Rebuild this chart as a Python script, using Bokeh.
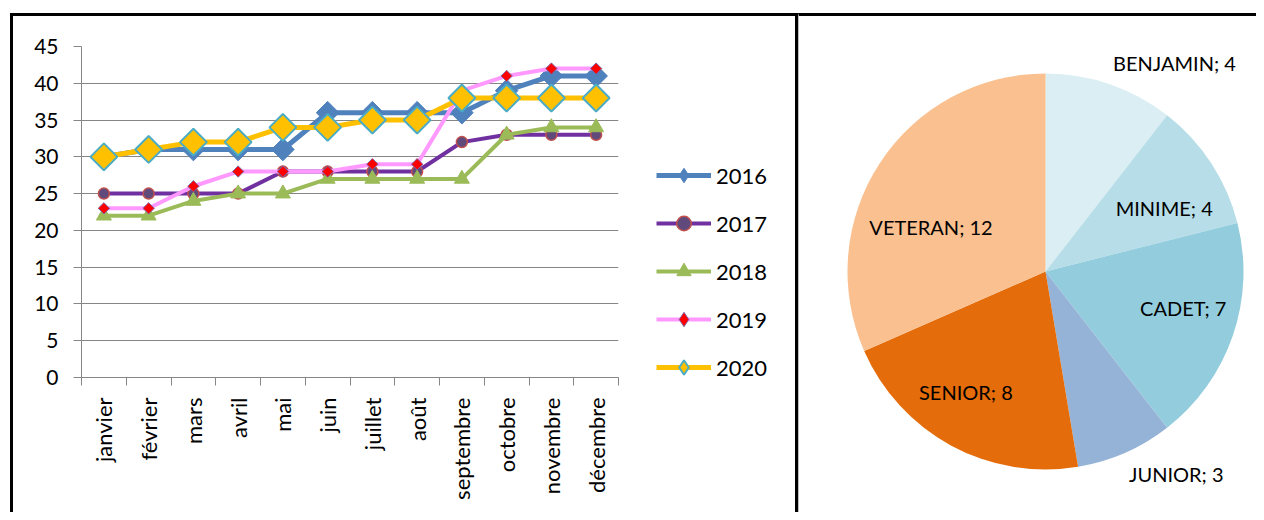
import math
from bokeh.plotting import figure
from bokeh.models import FixedTicker, Legend, LegendItem, Range1d, ColumnDataSource
from bokeh.embed import file_html
from bokeh.resources import INLINE
from bokeh.core.properties import value

# ---------------- data ----------------
months = ["janvier", "février", "mars", "avril", "mai", "juin", "juillet",
          "août", "septembre", "octobre", "novembre", "décembre"]
years = ["2016", "2017", "2018", "2019", "2020"]
s2016 = [30, 31, 31, 31, 31, 36, 36, 36, 36, 39, 41, 41]
s2017 = [25, 25, 25, 25, 28, 28, 28, 28, 32, 33, 33, 33]
s2018 = [22, 22, 24, 25, 25, 27, 27, 27, 27, 33, 34, 34]
s2019 = [23, 23, 26, 28, 28, 28, 29, 29, 39, 41, 42, 42]
s2020 = [30, 31, 32, 32, 34, 34, 35, 35, 38, 38, 38, 38]
y_ticks = [0, 5, 10, 15, 20, 25, 30, 35, 40, 45]

pie_categories = ["BENJAMIN", "MINIME", "CADET", "JUNIOR", "SENIOR", "VETERAN"]
pie_values = [4, 4, 7, 3, 8, 12]

# ---------------- styles ----------------
FONT = "Lato"
GRID = "#868686"
series = [s2016, s2017, s2018, s2019, s2020]
line_styles = [
    dict(line="#4F81BD", lw=5, marker="square", angle=math.pi / 4, size=16, fill="#4F81BD", mline="#4F81BD", mlw=1, lmarker="diamond"),
    dict(line="#7030A0", lw=4, marker="circle", angle=0, size=11, fill="#604A7B", mline="#C0504D", mlw=1.5, lmarker="circle"),
    dict(line="#9BBB59", lw=4, marker="triangle", angle=0, size=15, fill="#9BBB59", mline="#9BBB59", mlw=1, lmarker="triangle"),
    dict(line="#FF99FF", lw=4, marker="square", angle=math.pi / 4, size=8, fill="#FF0000", mline="#8064A2", mlw=1, lmarker="diamond"),
    dict(line="#FFC000", lw=5, marker="square", angle=math.pi / 4, size=19, fill="#FFC000", mline="#4BACC6", mlw=2, lmarker="diamond"),
]
pie_colors = ["#DAEEF3", "#B7DEE8", "#93CDDD", "#95B3D7", "#E46C0A", "#FAC090"]
# label placement: (inside?, angular nudge in degrees clockwise, radius fraction)
pie_label_place = [(False, 0, 1.05), (True, 5, 0.68), (True, -4, 0.72),
                   (False, 0, 1.05), (True, 5, 0.73), (True, -12, 0.62)]

# ---------------- line chart ----------------
x_idx = list(range(1, len(months) + 1))

p = figure(width=788, height=499, x_range=Range1d(0.5, len(months) + 0.5),
           y_range=Range1d(y_ticks[0], y_ticks[-1]),
           min_border_left=68, min_border_right=183, min_border_top=30, min_border_bottom=138,
           output_backend="svg", toolbar_location=None, margin=(13, 0, 0, 10),
           styles={"border-top": "3px solid black", "border-left": "3px solid black",
                   "border-right": "3px solid black"})
p.background_fill_color = "white"
p.border_fill_color = "white"
p.outline_line_color = None
p.xgrid.visible = False
p.ygrid.grid_line_color = GRID
p.ygrid.grid_line_width = 1

p.yaxis.ticker = FixedTicker(ticks=y_ticks)
p.yaxis.axis_line_color = GRID
p.yaxis.major_tick_line_color = GRID
p.yaxis.major_tick_out = 8
p.yaxis.major_tick_in = 0
p.yaxis.minor_tick_line_color = None
p.yaxis.major_label_text_font = FONT
p.yaxis.major_label_text_font_size = "21px"
p.yaxis.major_label_text_color = "black"
p.yaxis.major_label_standoff = 15

p.xaxis.ticker = FixedTicker(ticks=x_idx, minor_ticks=[i + 0.5 for i in range(0, len(months) + 1)])
p.xaxis.major_label_overrides = {i: m for i, m in zip(x_idx, months)}
p.xaxis.major_tick_line_color = None
p.xaxis.major_tick_out = 0
p.xaxis.major_tick_in = 0
p.xaxis.minor_tick_line_color = GRID
p.xaxis.minor_tick_out = 8
p.xaxis.minor_tick_in = 0
p.xaxis.axis_line_color = GRID
p.xaxis.major_label_orientation = math.pi / 2
p.xaxis.major_label_standoff = 12
p.xaxis.major_label_text_font = FONT
p.xaxis.major_label_text_font_size = "22px"
p.xaxis.major_label_text_color = "black"

for name, vals, st in zip(years, series, line_styles):
    src = ColumnDataSource(dict(x=x_idx, y=vals))
    p.line("x", "y", source=src, line_color=st["line"], line_width=st["lw"],
           line_join="round", line_cap="round")
    p.scatter("x", "y", source=src, marker=st["marker"], angle=st["angle"], size=st["size"],
              fill_color=st["fill"], line_color=st["mline"], line_width=st["mlw"])

# ---------------- legend (own small canvas, placed right of the plot area) ----------------
LW, LH = 140, 260
L = figure(width=LW, height=LH, x_range=Range1d(0, 1), y_range=Range1d(0, 1),
           min_border=0, x_axis_location=None, y_axis_location=None,
           output_backend="svg", toolbar_location=None,
           styles={"position": "absolute", "left": "649px", "top": "131px"})
L.grid.visible = False
L.outline_line_color = None
L.background_fill_color = "white"
L.border_fill_color = "white"
items = []
nan = float("nan")
for name, st in zip(years, line_styles):
    swatch = ColumnDataSource(dict(x=[nan], y=[nan]))
    ln = L.line("x", "y", source=swatch, line_color=st["line"], line_width=st["lw"])
    mk = L.scatter("x", "y", source=swatch, marker=st["lmarker"], fill_color=st["fill"],
                   line_color=st["mline"], line_width=st["mlw"])
    items.append(LegendItem(label=name, renderers=[ln, mk]))
legend = Legend(items=items, location=(7, 6), glyph_width=55, glyph_height=36,
                label_height=30, spacing=12, padding=10, label_standoff=5,
                label_text_font=FONT, label_text_font_size="22px", label_text_color="black",
                border_line_color=None, background_fill_alpha=0)
L.add_layout(legend)

# ---------------- pie chart ----------------
W, H = 458, 499
cx, cy = 246, 255
R = 198
q = figure(width=W, height=H, x_range=Range1d(-cx, W - cx), y_range=Range1d(cy - H, cy),
           min_border=0, x_axis_location=None, y_axis_location=None,
           output_backend="svg", toolbar_location=None,
           styles={"position": "absolute", "left": "798px", "top": "13px",
                   "border-top": "3px solid black", "border-left": "1px solid #BFBFBF"})
q.grid.visible = False
q.outline_line_color = None
q.background_fill_color = "white"
q.border_fill_color = "white"

total = sum(pie_values)
starts, ends, mids = [], [], []
cum = 0
for v in pie_values:
    a0 = math.pi / 2 - 2 * math.pi * cum / total
    cum += v
    a1 = math.pi / 2 - 2 * math.pi * cum / total
    starts.append(a0)
    ends.append(a1)
    mids.append((a0 + a1) / 2)
q.wedge(x=0, y=0, radius=R, source=ColumnDataSource(dict(s=starts, e=ends, c=pie_colors)),
        start_angle="s", end_angle="e", direction="clock", fill_color="c", line_color=None)

lx, ly, la, lb, lt = [], [], [], [], []
for cat, v, m, (ins, nudge, rf) in zip(pie_categories, pie_values, mids, pie_label_place):
    lt.append(f"{cat}; {v}")
    a = m - math.radians(nudge)
    r = rf * R
    lx.append(r * math.cos(a)); ly.append(r * math.sin(a))
    if ins:
        la.append("center"); lb.append("middle")
    else:
        la.append("left" if math.cos(a) >= 0 else "right")
        lb.append("bottom" if math.sin(a) >= 0 else "top")
q.text(x="x", y="y", text="t", source=ColumnDataSource(dict(x=lx, y=ly, t=lt, a=la, b=lb)),
       text_align="a", text_baseline="b", text_font=value(FONT), text_font_size="20px",
       text_color="black")

open("out.html", "w").write(file_html([p, L, q], INLINE))
